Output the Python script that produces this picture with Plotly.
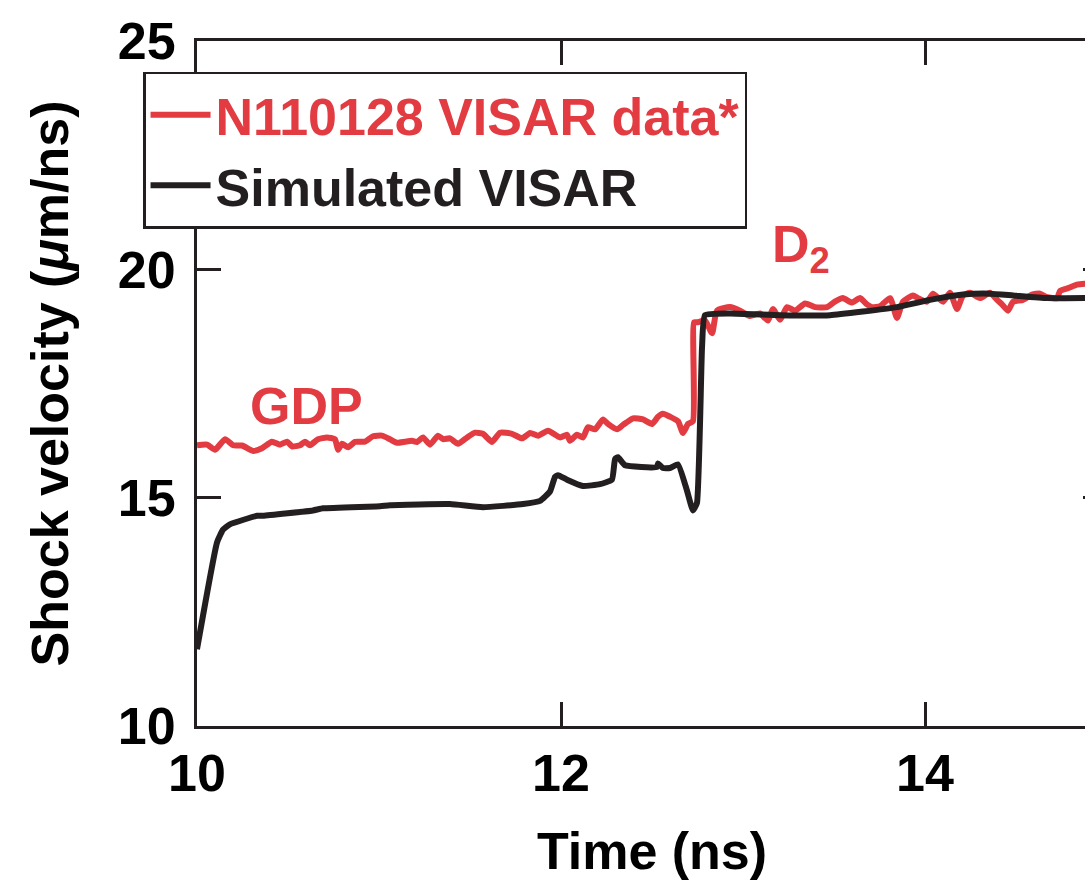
import plotly.graph_objects as go

# ---- data ----
visar_t = [10.000, 10.055, 10.099, 10.154, 10.198, 10.247, 10.308, 10.357, 10.412, 10.456,
           10.495, 10.522, 10.566, 10.593, 10.621, 10.665, 10.714, 10.758, 10.775, 10.797,
           10.830, 10.868, 10.923, 10.967, 11.016, 11.060, 11.099, 11.143, 11.181, 11.209,
           11.242, 11.280, 11.324, 11.352, 11.390, 11.434, 11.484, 11.527, 11.571, 11.621,
           11.665, 11.731, 11.786, 11.830, 11.874, 11.929, 11.995, 12.033, 12.049, 12.088,
           12.121, 12.148, 12.187, 12.231, 12.258, 12.308, 12.341, 12.396, 12.451, 12.500,
           12.533, 12.560, 12.599, 12.643, 12.670, 12.698, 12.725, 12.731, 12.747, 12.791,
           12.830, 12.857, 12.929, 12.984, 13.038, 13.093, 13.137, 13.165, 13.203, 13.242,
           13.286, 13.341, 13.396, 13.462, 13.505, 13.549, 13.599, 13.643, 13.681, 13.709,
           13.753, 13.808, 13.846, 13.879, 13.934, 13.962, 14.011, 14.044, 14.099, 14.137,
           14.176, 14.209, 14.247, 14.302, 14.357, 14.396, 14.423, 14.456, 14.484, 14.538,
           14.588, 14.632, 14.670, 14.725, 14.742, 14.786, 14.835, 14.879, 15.000]
visar_v = [16.148, 16.161, 16.049, 16.280, 16.148, 16.142, 16.024, 16.083, 16.226, 16.161,
           16.226, 16.122, 16.148, 16.226, 16.148, 16.280, 16.319, 16.280, 16.049, 16.181,
           16.102, 16.220, 16.226, 16.344, 16.358, 16.280, 16.201, 16.226, 16.246, 16.220,
           16.319, 16.161, 16.358, 16.280, 16.299, 16.181, 16.319, 16.423, 16.398, 16.220,
           16.423, 16.398, 16.299, 16.417, 16.358, 16.463, 16.319, 16.378, 16.246, 16.378,
           16.319, 16.541, 16.496, 16.713, 16.614, 16.496, 16.594, 16.738, 16.713, 16.614,
           16.772, 16.837, 16.772, 16.673, 16.417, 16.614, 16.673, 18.839, 18.839, 18.878,
           18.602, 19.094, 19.173, 19.094, 18.976, 19.035, 18.878, 19.134, 18.898, 19.173,
           19.094, 19.252, 19.173, 19.173, 19.291, 19.370, 19.272, 19.370, 19.232, 19.173,
           19.193, 19.370, 18.937, 19.291, 19.429, 19.370, 19.291, 19.468, 19.291, 19.488,
           19.134, 19.429, 19.488, 19.370, 19.488, 19.331, 19.232, 19.094, 19.291, 19.331,
           19.449, 19.468, 19.390, 19.370, 19.528, 19.587, 19.665, 19.685, 19.700]

sim_t = [10.000, 10.110, 10.143, 10.181, 10.330, 10.363, 10.637, 10.692, 11.005, 11.060,
         11.390, 11.571, 11.791, 11.885, 11.940, 11.967, 11.984, 12.033, 12.121, 12.214,
         12.280, 12.297, 12.313, 12.352, 12.527, 12.533, 12.560, 12.599, 12.643, 12.692,
         12.725, 12.747, 12.775, 12.791, 12.929, 13.203, 13.478, 13.659, 13.846, 14.027,
         14.209, 14.357, 14.484, 14.670, 14.879, 15.000]
sim_v = [11.682, 14.019, 14.299, 14.416, 14.603, 14.603, 14.720, 14.766, 14.813, 14.836,
         14.860, 14.790, 14.860, 14.930, 15.138, 15.453, 15.492, 15.394, 15.256, 15.295,
         15.394, 15.846, 15.886, 15.709, 15.669, 15.748, 15.650, 15.650, 15.728, 15.157,
         14.720, 14.883, 18.307, 18.996, 19.035, 18.996, 18.996, 19.075, 19.173, 19.331,
         19.449, 19.468, 19.429, 19.370, 19.370, 19.380]

x_ticks = [10, 12, 14, 16]
y_ticks = [10, 15, 20, 25]

RED = "#E23B41"
BLACK = "#231F20"
FONT = "Liberation Sans, Arial, sans-serif"

fig = go.Figure()
fig.add_trace(go.Scatter(
    x=visar_t, y=visar_v, mode="lines",
    line=dict(color=RED, width=6, shape="spline", smoothing=0.5),
    name=f"<span style='color:{RED}'>N110128 VISAR data*</span>",
))
fig.add_trace(go.Scatter(
    x=sim_t, y=sim_v, mode="lines",
    line=dict(color=BLACK, width=6, shape="spline", smoothing=0.4),
    name=f"<span style='color:{BLACK}'>Simulated VISAR</span>",
))

fig.add_annotation(x=10.60, y=17.0, text="GDP", showarrow=False,
                   font=dict(family=FONT, size=52, color=RED, weight="bold"))
fig.add_annotation(x=13.148, y=20.47, text="D<sub>2</sub>", showarrow=False,
                   xanchor="left",
                   font=dict(family=FONT, size=52, color=RED, weight="bold"))

W = 1125
fig.update_layout(
    width=W, height=883,
    margin=dict(l=197, r=W - 1107, t=34, b=154),
    paper_bgcolor="white", plot_bgcolor="white",
    font=dict(family=FONT, size=52, color="black", weight="bold"),
    showlegend=True,
    legend=dict(
        x=-0.0593, y=0.955, xanchor="left", yanchor="top",
        bgcolor="white", bordercolor=BLACK, borderwidth=2.5,
        font=dict(family=FONT, size=52, weight="bold"),
        tracegroupgap=0, itemwidth=60,
    ),
    xaxis=dict(
        range=[10, 15], tickvals=x_ticks, ticktext=[str(v) for v in x_ticks],
        showgrid=False, zeroline=False,
        showline=True, linecolor=BLACK, linewidth=3, mirror="ticks",
        ticks="inside", ticklen=24, tickwidth=3, tickcolor=BLACK,
        ticklabelstandoff=0,
        title=dict(text="Time (ns)", standoff=32,
                   font=dict(family=FONT, size=52, weight="bold")),
    ),
    yaxis=dict(
        range=[10, 25], tickvals=y_ticks, ticktext=[str(v) for v in y_ticks],
        showgrid=False, zeroline=False,
        showline=True, linecolor=BLACK, linewidth=3, mirror="ticks",
        ticks="inside", ticklen=24, tickwidth=3, tickcolor=BLACK,
        ticklabelstandoff=8,
        title=dict(text="Shock velocity (<i>μ</i>m/ns)", standoff=33,
                   font=dict(family=FONT, size=52, weight="bold")),
    ),
)

fig.write_html("out.html",
               post_script="document.documentElement.style.overflow='hidden';"
                           "document.body.style.overflow='hidden';")
